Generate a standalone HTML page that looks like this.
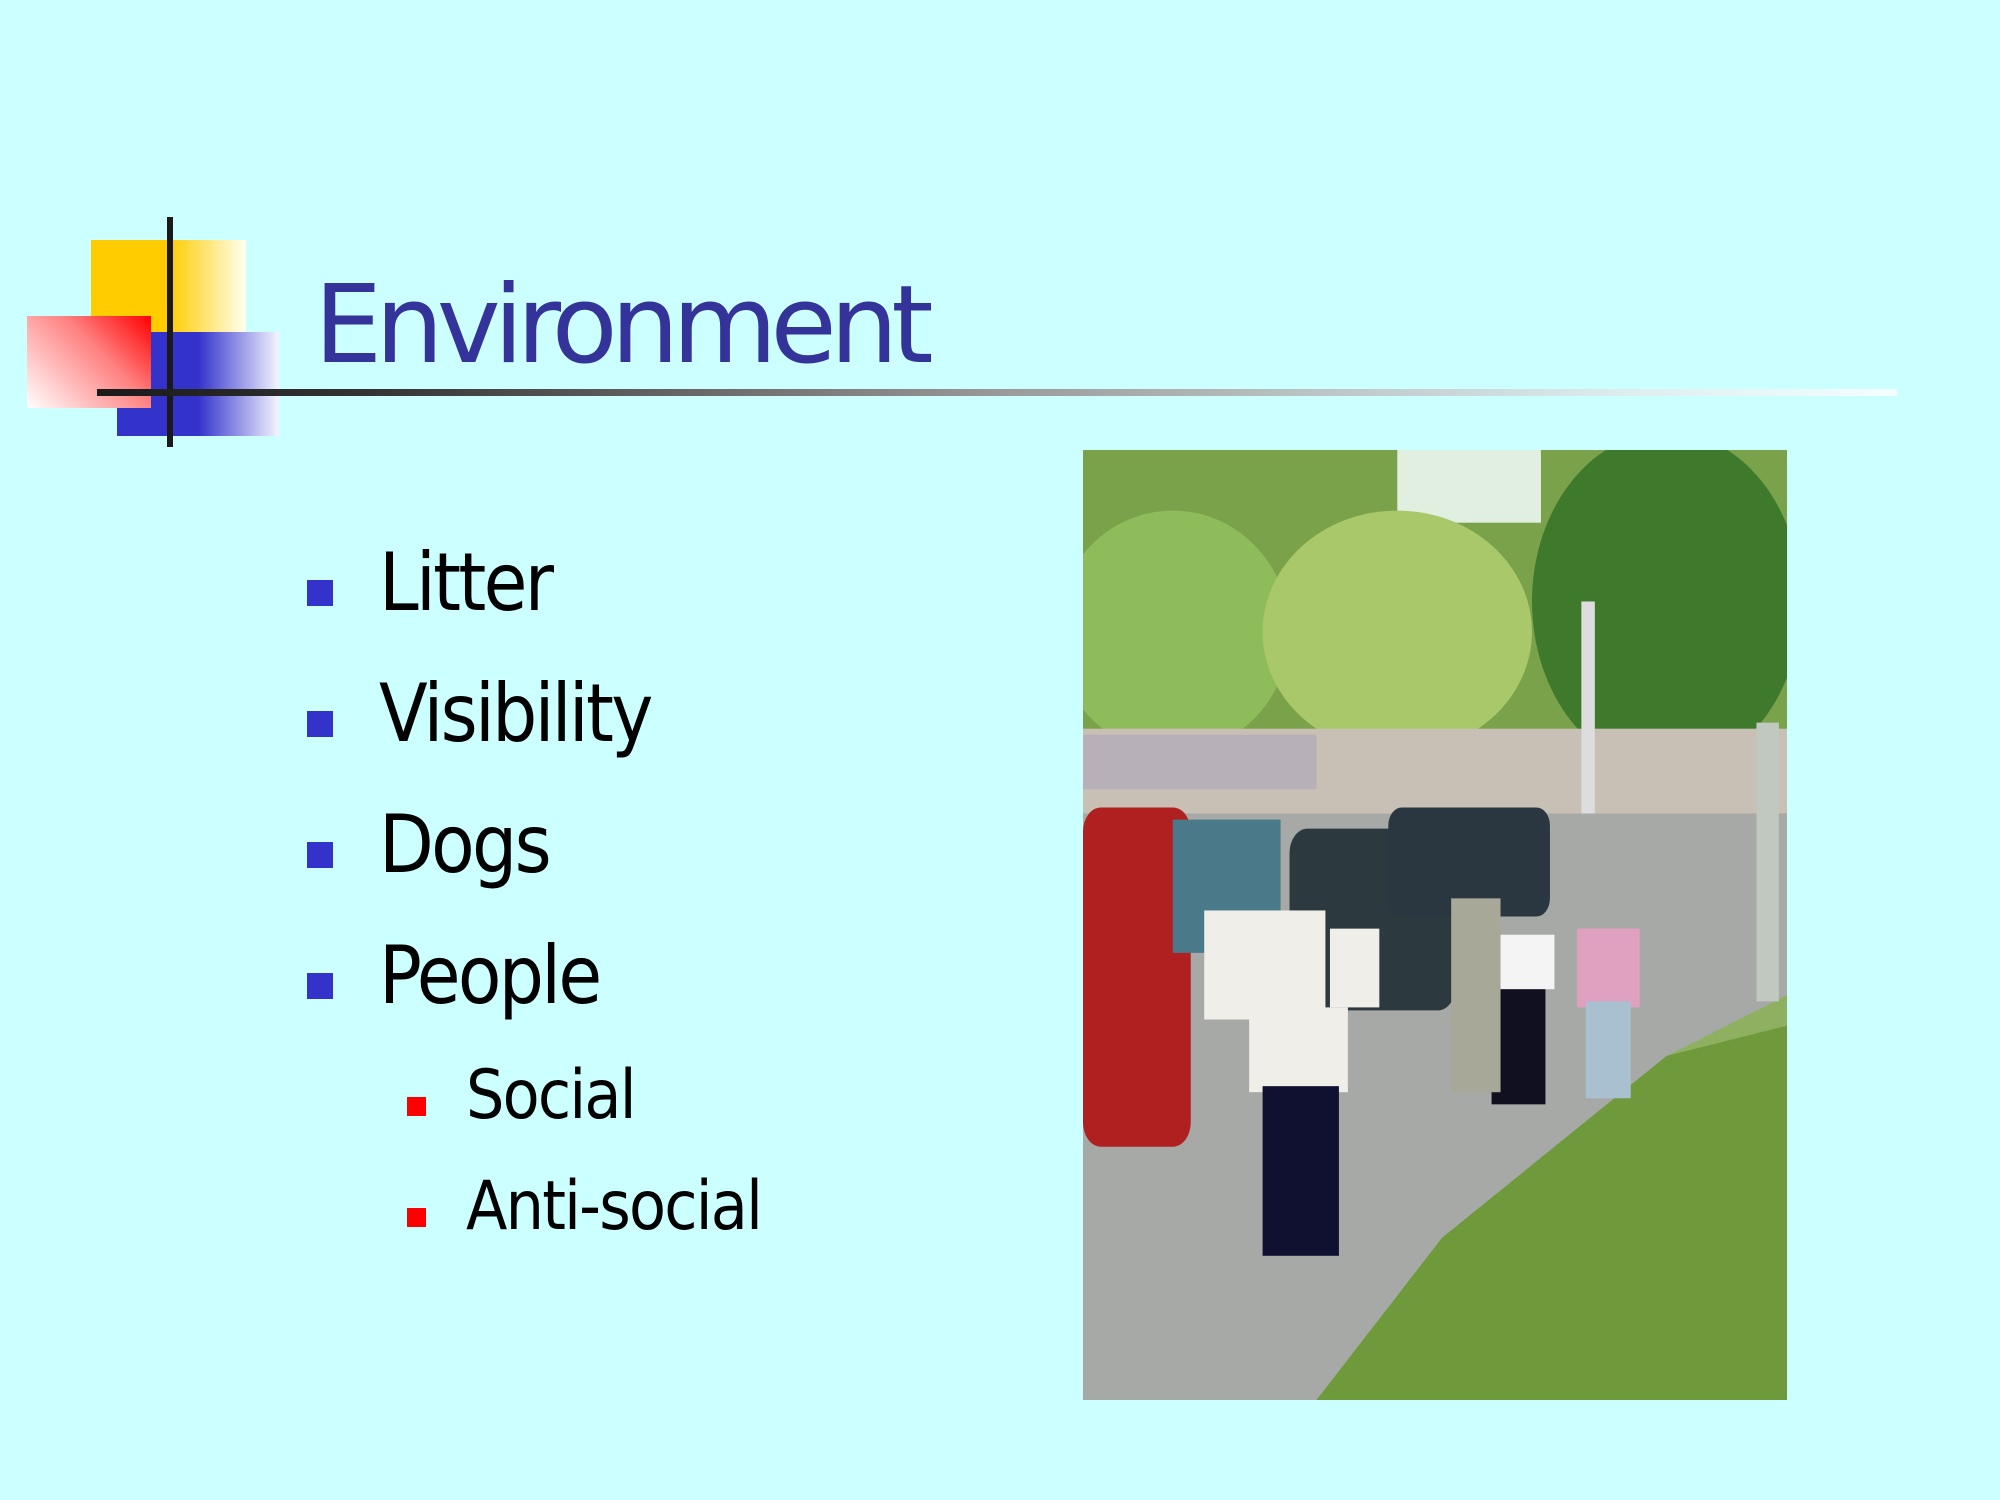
<!DOCTYPE html>
<html><head><meta charset="utf-8"><style>
html,body{margin:0;padding:0}
body{width:2000px;height:1500px;background:#ccffff;position:relative;overflow:hidden;font-family:"DejaVu Sans","Liberation Sans",sans-serif}
.a{position:absolute}
.t{position:absolute;color:#000;white-space:nowrap;line-height:1;transform:scaleX(0.89);transform-origin:0 0}
</style></head><body>
<div class="a" style="left:91px;top:240px;width:155px;height:94px;background:linear-gradient(90deg,#ffcc00 0%,#ffcc00 50%,#fffff0 100%)"></div>
<div class="a" style="left:117px;top:332px;width:162px;height:104px;background:linear-gradient(90deg,#3333cc 0%,#3333cc 50%,#f4f4ff 100%)"></div>
<div class="a" style="left:27px;top:316px;width:124px;height:92px;background:linear-gradient(225deg,#ff0000 0%,#ff8080 40%,#ffffff 100%)"></div>
<div class="a" style="left:167px;top:217px;width:6px;height:230px;background:#1a1a1a"></div>
<div class="a" style="left:97px;top:389px;width:1800px;height:7px;background:linear-gradient(90deg,#1a1a1a 0%,#333 15%,#999 50%,#ddeeee 85%,#f4ffff 100%)"></div>
<div class="a" style="left:314px;top:272px;font-size:108px;line-height:1;white-space:nowrap;color:#333399;letter-spacing:-7px">Environment</div>

<div class="a" style="left:307px;top:580px;width:26px;height:26px;background:#3333cc"></div>
<div class="t" style="left:379px;top:543px;font-size:80px;letter-spacing:-3px">Litter</div>
<div class="a" style="left:307px;top:711px;width:26px;height:26px;background:#3333cc"></div>
<div class="t" style="left:379px;top:674px;font-size:80px;letter-spacing:-3px">Visibility</div>
<div class="a" style="left:307px;top:842px;width:26px;height:26px;background:#3333cc"></div>
<div class="t" style="left:379px;top:805px;font-size:80px;letter-spacing:-3px">Dogs</div>
<div class="a" style="left:307px;top:973px;width:26px;height:26px;background:#3333cc"></div>
<div class="t" style="left:379px;top:936px;font-size:80px;letter-spacing:-3px">People</div>
<div class="a" style="left:407px;top:1097px;width:19px;height:19px;background:#ff0000"></div>
<div class="t" style="left:466px;top:1062px;font-size:68px;letter-spacing:-2px">Social</div>
<div class="a" style="left:407px;top:1208px;width:19px;height:19px;background:#ff0000"></div>
<div class="t" style="left:466px;top:1173px;font-size:68px;letter-spacing:-2px">Anti-social</div>

<svg class="a" style="left:1083px;top:450px" width="704" height="950" viewBox="0 0 1568 1568" preserveAspectRatio="none">
<rect width="1568" height="1568" fill="#8fb060"/>
<rect x="0" y="0" width="1568" height="480" fill="#7aa24a"/>
<rect x="700" y="0" width="320" height="120" fill="#e0efe0"/>
<ellipse cx="200" cy="300" rx="260" ry="200" fill="#8fbc5a"/>
<ellipse cx="700" cy="300" rx="300" ry="200" fill="#a8c86a"/>
<ellipse cx="1300" cy="250" rx="300" ry="280" fill="#3f7a2c"/>
<rect x="0" y="460" width="1568" height="160" fill="#c8c0b4"/>
<rect x="0" y="470" width="520" height="90" fill="#b8b0b8"/>
<rect x="1110" y="250" width="30" height="480" fill="#ddd"/>
<polygon points="0,600 1568,600 1568,900 1300,1000 800,1300 520,1568 0,1568" fill="#a7a9a6"/>
<polygon points="1568,950 1568,1568 520,1568 800,1300 1300,1000" fill="#6f9a3c"/>
<rect x="0" y="590" width="240" height="560" rx="40" fill="#b02020"/>
<rect x="460" y="625" width="370" height="300" rx="40" fill="#2c3a40"/>
<rect x="680" y="590" width="360" height="180" rx="30" fill="#2a3640"/>
<rect x="200" y="610" width="240" height="220" fill="#4a7a8a"/>
<rect x="270" y="760" width="270" height="180" fill="#f0eee8"/>
<rect x="370" y="920" width="220" height="140" fill="#f0eee8"/>
<rect x="400" y="1050" width="170" height="280" fill="#101030"/>
<rect x="550" y="790" width="110" height="130" fill="#f0eee8"/>
<rect x="900" y="800" width="150" height="90" fill="#f4f4f4"/>
<rect x="910" y="890" width="120" height="190" fill="#101020"/>
<rect x="820" y="740" width="110" height="320" fill="#a8a898"/>
<rect x="1100" y="790" width="140" height="130" fill="#e0a0c0"/>
<rect x="1120" y="910" width="100" height="160" fill="#a8c0d0"/>
<rect x="1500" y="450" width="50" height="460" fill="#c0c8c0"/>
</svg>
</body></html>
